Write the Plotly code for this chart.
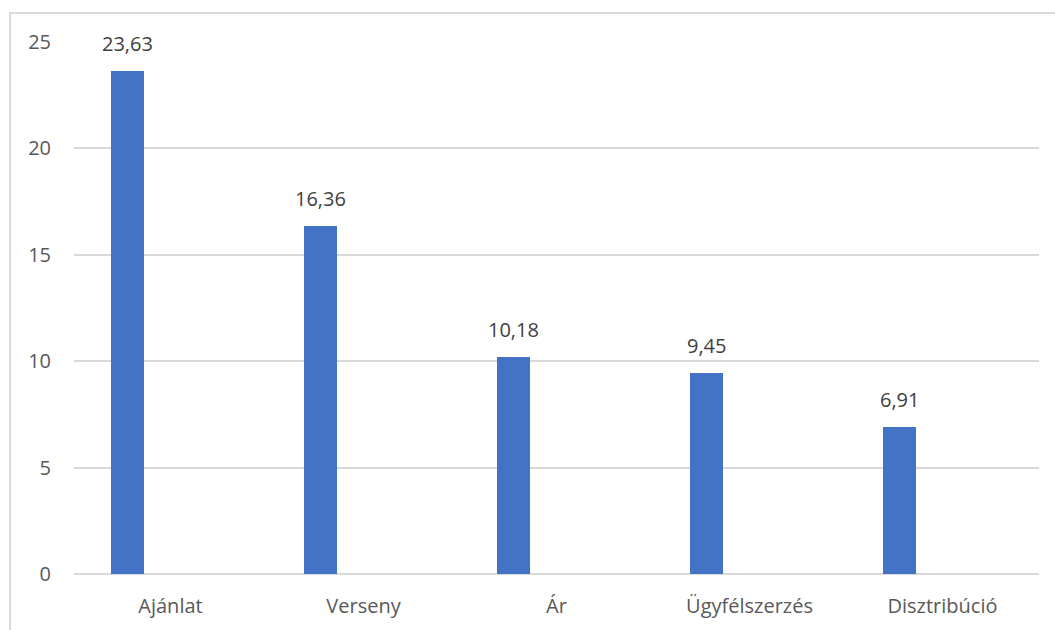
import plotly.graph_objects as go

# Category names and their values
categories = ["Ajánlat", "Verseny", "Ár", "Ügyfélszerzés", "Disztribúció"]
values = [23.63, 16.36, 10.18, 9.45, 6.91]
value_labels = ["23,63", "16,36", "10,18", "9,45", "6,91"]
y_ticks = [0, 5, 10, 15, 20, 25]

BAR_COLOR = "#4472C4"
GRID_COLOR = "#D9D9D9"
FONT = "Open Sans, Liberation Sans, sans-serif"
FONT_SIZE = 20

# Bars sit to the left of each category slot (first slot of a cluster)
bar_width = 0.174
bar_offset = -0.31

fig = go.Figure()
fig.add_trace(go.Bar(
    x=categories,
    y=values,
    width=bar_width,
    offset=bar_offset,
    marker=dict(color=BAR_COLOR, line=dict(width=0)),
    hoverinfo="x+y",
))

# Value labels above each bar
annotations = []
for i, (v, lab) in enumerate(zip(values, value_labels)):
    annotations.append(dict(
        x=i + bar_offset + bar_width / 2,
        y=v,
        xref="x",
        yref="y",
        text=lab,
        showarrow=False,
        yanchor="bottom",
        yshift=12,
        font=dict(family=FONT, size=FONT_SIZE, color="#404040"),
    ))

# Light outer frame of the chart area
W, H = 1055, 630
ml, mr, mt, mb = 74, 16, 42, 56
pw, ph = W - ml - mr, H - mt - mb
shapes = [dict(
    type="rect",
    xref="paper", yref="paper",
    x0=(10 - ml) / pw, x1=(W + 5 - ml) / pw,
    y0=(H - mb - (H + 5)) / ph, y1=(H - mb - 13) / ph,
    line=dict(color=GRID_COLOR, width=2),
    fillcolor="rgba(0,0,0,0)",
    layer="below",
)]

fig.update_layout(
    width=W,
    height=H,
    margin=dict(l=ml, r=mr, t=mt, b=mb),
    paper_bgcolor="white",
    plot_bgcolor="white",
    showlegend=False,
    font=dict(family=FONT, size=FONT_SIZE, color="#595959"),
    annotations=annotations,
    shapes=shapes,
    bargap=0,
)
fig.update_xaxes(
    type="category",
    range=[-0.5, 4.5],
    showgrid=False,
    showline=False,
    zeroline=False,
    ticks="",
    tickfont=dict(family=FONT, size=FONT_SIZE, color="#595959"),
    ticklabelstandoff=18,
)
fig.update_yaxes(
    range=[0, 25],
    tickvals=y_ticks,
    showgrid=True,
    gridcolor=GRID_COLOR,
    gridwidth=1.5,
    zeroline=True,
    zerolinecolor=GRID_COLOR,
    zerolinewidth=1.5,
    showline=False,
    ticks="",
    ticklabelstandoff=22,
    tickfont=dict(family=FONT, size=FONT_SIZE, color="#595959"),
)

fig.write_html("out.html")
